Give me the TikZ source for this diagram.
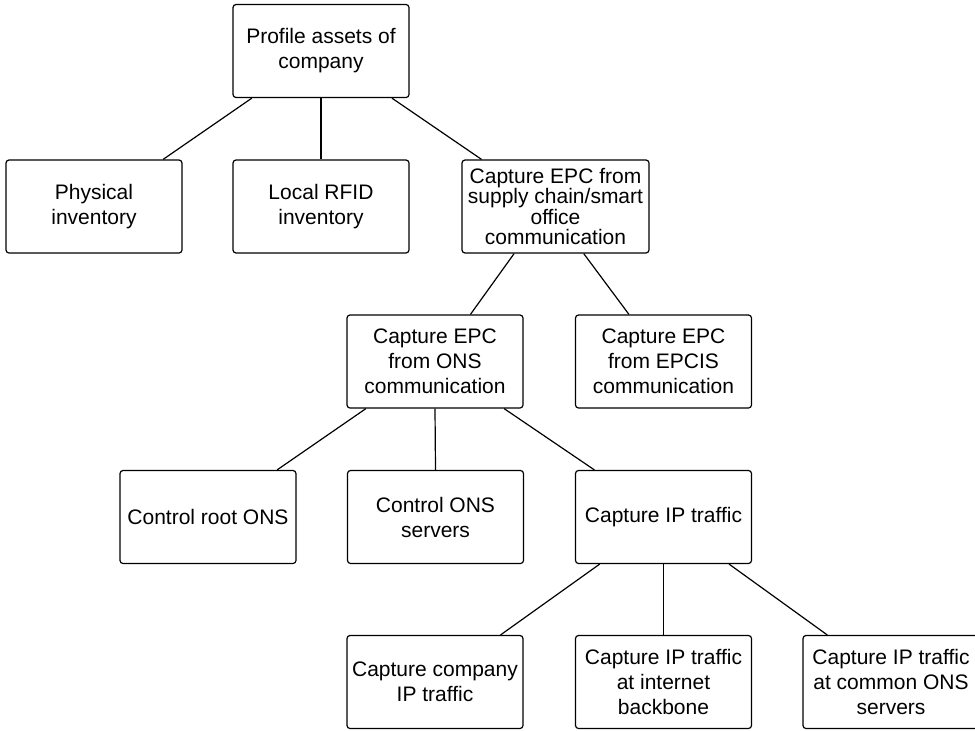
\documentclass[tikz,border=0pt]{standalone}
\usepackage{fontspec}
\setmainfont{Liberation Sans}
\usepackage{tikz}
\usetikzlibrary{positioning,calc}
\definecolor{ink}{HTML}{000000}

\begin{document}
\begin{tikzpicture}[x=1pt,y=-1pt,
  font=\fontsize{21}{25}\selectfont,
  box/.style={draw=ink,line width=1.2pt,rounded corners=3pt,minimum width=176pt,minimum height=93pt,inner sep=0pt,align=center,fill=white},
  link/.style={draw=ink,line width=1.2pt}]
  \useasboundingbox (0,0) rectangle (975,731);
  \clip (0,0) rectangle (975,731);
  \node[box] (root) at (321,51) {Profile assets of\\company};
  \node[box] (phys) at (94,206.5) {Physical\\inventory};
  \node[box] (rfid) at (321,206.5) {Local RFID\\inventory};
  \node[box,minimum width=187pt,font=\fontsize{21}{20.5}\selectfont] (supply) at (555.5,206.5) {Capture EPC from\\supply chain/smart\\office\\communication};
  \node[box] (ons) at (435,361.5) {Capture EPC\\from ONS\\communication};
  \node[box] (epcis) at (663.5,361.5) {Capture EPC\\from EPCIS\\communication};
  \node[box] (croot) at (208,517) {Control root ONS};
  \node[box] (cons) at (435.5,517) {Control ONS\\servers};
  \node[box] (ip) at (663.5,517) {Capture IP traffic};
  \node[box] (comp) at (435,682) {Capture company\\IP traffic};
  \node[box] (bone) at (663.5,682) {Capture IP traffic\\at internet\\backbone};
  \node[box] (cserv) at (891,682) {Capture IP traffic\\at common ONS\\servers};
  % parent/fraction/child/fraction
  \foreach \p/\f/\c/\g in {root/0.11/phys/0.89,root/0.5/rfid/0.5,root/0.9/supply/0.107,
    supply/0.28/ons/0.70,supply/0.65/epcis/0.305,
    ons/0.11/croot/0.89,ons/0.5/cons/0.5,ons/0.89/ip/0.11,
    ip/0.14/comp/0.87,ip/0.5/bone/0.5,ip/0.87/cserv/0.14}
    \draw[link] ($(\p.south west)!\f!(\p.south east)$) -- ($(\c.north west)!\g!(\c.north east)$);
\end{tikzpicture}
\end{document}
